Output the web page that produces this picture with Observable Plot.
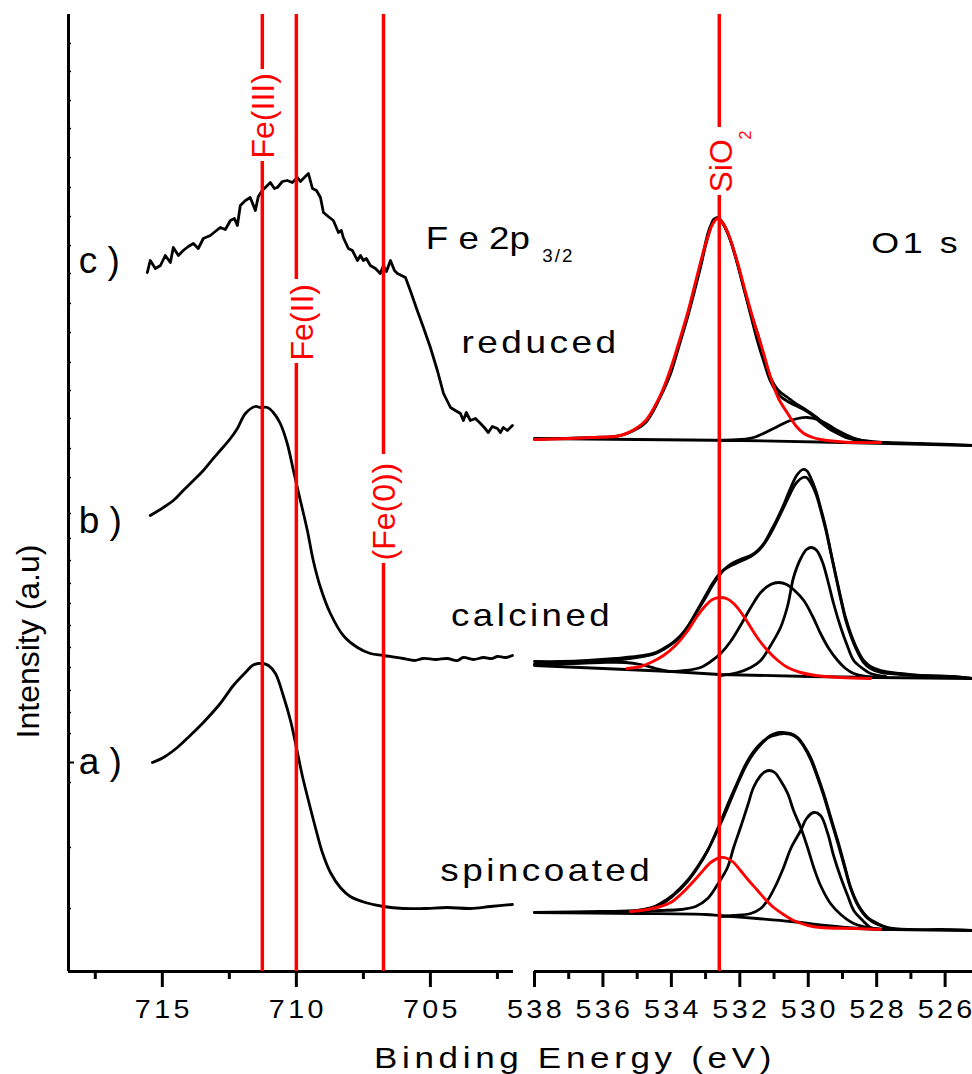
<!DOCTYPE html>
<html>
<head>
<meta charset="utf-8">
<script src="https://cdn.jsdelivr.net/npm/d3@7"></script>
<script src="https://cdn.jsdelivr.net/npm/@observablehq/plot@0.6"></script>
<style>
html, body { margin: 0; padding: 0; background: #fff; }
#chart { position: relative; width: 972px; height: 1074px; }
#chart svg { position: absolute; left: 0; top: 0; background: transparent !important; overflow: visible; }
</style>
</head>
<body>
<div id="chart"></div>
<script>
// ---------- axes / ticks ----------
const feDomain = [718.5, 701.9];
const oDomain = [538, 525.2];
const yDomain = [0, 957];
const feTicksMajor = [715, 710, 705];
const feTicksMinor = [717.5, 712.5, 707.5, 702.5];
const oTicksMajor = [538, 536, 534, 532, 530, 528, 526];
const oTicksMinor = [537, 535, 533, 531, 529, 527];
const yTicksMinor = [928, 900, 871, 843, 814, 784, 755, 726, 698, 668, 639, 609, 581, 553, 523, 494, 458, 433, 411, 388, 368, 346, 324, 304, 281, 259, 238, 189, 124, 63];
const yTicksMajor = [209];
const xTitle = "Binding Energy (eV)";
const yTitle = "Intensity (a.u)";

// ---------- reference lines (with label extents along the line) ----------
const feLines = [711.27, 710.0, 706.75];
const feLineLabels = ["Fe(III)", "Fe(II)", "(Fe(0))"];
const feLabelStart = [813, 611, 411];
const feLabelEnd = [899, 689, 514];
const feLabelDx = [12, 17, 12];
const siLine = [532.6];
const siLabel = "SiO";
const siLabelStart = 779;
const siSub = "2";
const siSubStart = 832;
const siLabelEnd = 844;

// ---------- text labels ----------
const sampleLetters = ["c )", "b )", "a )"];
const sampleLetterY = [699, 439, 198];
const sampleLetterX = 718.12;
const sampleNames = ["reduced", "calcined", "spincoated"];
const sampleNameX = [703.84, 704.23, 704.63];
const sampleNameY = [619, 346, 91];
const feTitle = "F e 2p";
const feTitlePos = [705.17, 723];
const feSub = "3/2";
const feSubPos = [537.77, 710];
const oTitle = "O1 s";
const oTitlePos = [528.16, 719];

// ---------- Fe 2p spectra [BE, intensity] ----------
const feReduced = [
 [715.56,699],[715.45,711],[715.26,703],[715.07,706],[714.89,716],[714.70,709],[714.59,724],[714.40,716],
 [714.22,721],[714.03,725],[713.84,728],[713.66,723],[713.47,733],[713.21,736],[712.84,744],[712.65,742],
 [712.46,751],[712.31,753],[712.20,746],[712.09,766],[711.90,771],[711.72,774],[711.53,761],[711.42,775],
 [711.27,781],[711.12,785],[710.97,789],[710.82,783],[710.71,784],[710.52,790],[710.34,791],[710.15,789],
 [709.96,794],[709.85,790],[709.74,793],[709.55,798],[709.48,791],[709.40,783],[709.25,781],[709.10,774],
 [708.99,759],[708.81,755],[708.62,751],[708.43,739],[708.32,741],[708.25,734],[708.06,723],[707.91,721],
 [707.72,711],[707.61,716],[707.50,711],[707.39,713],[707.24,706],[707.05,703],[706.87,698],[706.75,706],
 [706.64,700],[706.49,711],[706.34,701],[706.23,698],[706.08,696],[705.93,694],[705.75,681],[705.49,661],
 [705.26,644],[705.00,624],[704.74,601],[704.51,578],[704.25,564],[704.07,561],[703.88,558],[703.77,551],
 [703.66,559],[703.51,551],[703.32,553],[703.13,548],[702.99,544],[702.84,539],[702.69,545],[702.50,543],
 [702.39,539],[702.28,544],[702.13,541],[701.94,546]
];
const feCalcined = [
 [715.45,456],[714.96,464],[714.59,471],[714.22,481],[713.84,491],[713.47,501],[713.10,513],[712.84,521],
 [712.46,533],[712.20,543],[711.90,558],[711.53,565],[711.34,564],[711.08,564],[710.86,559],[710.60,548],
 [710.34,528],[710.11,501],[709.85,471],[709.59,441],[709.37,411],[709.10,384],[708.73,358],[708.25,336],
 [707.72,324],[707.24,318],[706.75,316],[706.01,313],[705.60,311],[705.26,313],[704.80,312],[704.37,313],
 [704.00,311],[703.77,314],[703.40,312],[703.02,314],[702.70,313],[702.50,315],[702.20,314],[701.94,316]
];
const feSpin = [
 [715.37,209],[714.96,214],[714.44,224],[713.96,236],[713.47,249],[712.84,268],[712.35,286],[711.90,299],
 [711.64,306],[711.42,308],[711.23,308],[711.04,306],[710.78,298],[710.49,276],[710.22,251],[709.99,223],
 [709.78,196],[709.55,171],[709.29,144],[709.03,119],[708.73,99],[708.36,84],[707.99,75],[707.43,69],
 [706.75,65],[706.01,63],[705.26,63],[704.37,64],[703.51,63],[702.76,65],[701.94,67]
];

// ---------- O 1s spectra [BE, intensity] ----------
const oRedData = [
 [538.00,532],[537.24,533],[536.36,534],[535.49,536],[534.99,543],[534.75,549],[534.52,561],[534.26,579],
 [534.02,598],[533.79,624],[533.53,654],[533.32,681],[533.15,704],[533.00,726],[532.85,744],[532.77,752],
 [532.65,753],[532.56,751],[532.42,743],[532.27,731],[532.09,711],[531.89,684],[531.68,659],[531.48,638],
 [531.30,616],[531.10,594],[530.87,581],[530.60,574],[530.37,568],[530.13,563],[529.87,557],[529.64,551],
 [529.40,544],[529.14,539],[528.91,535],[528.67,533],[528.18,530],[527.68,529],[526.71,528],[525.84,527],[525.19,526]
];
const oRedFit = [
 [533.53,656],[533.15,706],[532.85,746],[532.65,754],[532.42,744],[532.09,710],[531.68,656],[531.48,630],
 [531.30,610],[531.10,590],[530.87,577],[530.60,570],[530.37,566],[530.13,562],[529.87,556],[529.64,549],
 [529.40,543],[529.14,538],[528.91,534],[528.67,532],[528.18,530]
];
const oRedSi = [
 [538.00,532],[536.36,534],[535.49,536],[534.99,544],[534.75,551],[534.52,563],[534.26,581],[534.02,603],
 [533.79,628],[533.53,658],[533.32,686],[533.15,709],[532.97,731],[532.80,747],[532.65,753],[532.51,749],
 [532.33,737],[532.06,708],[531.83,679],[531.60,651],[531.33,621],[531.10,594],[530.87,573],[530.60,558],
 [530.37,546],[530.13,538],[529.87,534],[529.64,532],[529.14,530],[528.67,529],[527.88,529]
];
const oRedC2 = [
 [532.56,531],[531.98,532],[531.60,534],[531.25,539],[530.95,544],[530.60,550],[530.31,553],[530.02,554],
 [529.73,552],[529.43,547],[529.14,541],[528.85,536],[528.47,531],[527.88,529]
];
const oRedBg = [[538,533],[535,532],[532,531],[529,529],[527,527.5],[525.2,526]];

const oCalData = [
 [538.00,310],[537.24,310],[536.45,311],[535.63,313],[534.81,316],[534.46,319],[534.23,323],[533.96,329],
 [533.73,336],[533.50,346],[533.23,361],[533.00,374],[532.80,386],[532.56,398],[532.36,405],[532.18,409],
 [531.92,413],[531.68,416],[531.48,421],[531.30,428],[531.10,440],[530.89,454],[530.69,469],[530.51,484],
 [530.34,496],[530.16,502],[530.05,501],[529.93,494],[529.78,481],[529.64,464],[529.49,444],[529.35,421],
 [529.20,397],[529.05,374],[528.91,354],[528.76,338],[528.58,323],[528.38,311],[528.18,305],[527.88,301],
 [527.30,298],[526.71,296],[525.84,295],[525.19,293]
];
const oCalFit = [
 [538.00,307],[536.45,309],[535.63,311],[534.81,315],[534.46,318],[534.23,322],[533.96,328],[533.73,335],
 [533.50,346],[533.23,362],[533.00,376],[532.80,388],[532.56,399],[532.36,404],[532.18,407],[531.92,411],
 [531.68,415],[531.48,420],[531.30,427],[531.10,438],[530.89,452],[530.69,466],[530.51,479],[530.34,489],
 [530.16,494],[530.05,494],[529.93,489],[529.78,478],[529.64,462],[529.49,442],[529.35,420],[529.20,396],
 [529.05,372],[528.91,352],[528.76,336],[528.58,321],[528.38,309],[528.18,303],[527.88,299],[527.30,297],
 [526.71,296],[525.84,295],[525.19,293]
];
const oCalSi = [
 [535.30,303],[534.90,305],[534.60,309],[534.23,316],[533.88,326],[533.56,339],[533.23,356],[533.00,366],
 [532.80,372],[532.59,374],[532.39,373],[532.18,368],[531.92,357],[531.68,344],[531.45,332],[531.19,321],
 [530.89,311],[530.60,304],[530.22,299],[529.78,296],[529.05,294],[528.18,293]
];
const oCalC3 = [
 [538.00,307],[536.95,308],[536.07,309],[535.34,309],[534.90,307],[534.46,303],[534.02,300],[533.58,301],
 [533.15,304],[532.85,310],[532.56,318],[532.27,330],[531.98,346],[531.68,364],[531.39,379],[531.10,387],
 [530.87,389],[530.63,387],[530.37,380],[530.13,371],[529.87,355],[529.64,338],[529.40,323],[529.14,311],
 [528.91,303],[528.67,298],[528.32,295],[527.88,294]
];
const oCalC4 = [
 [532.56,296],[532.06,299],[531.68,304],[531.39,311],[531.10,326],[530.81,344],[530.60,366],[530.43,394],
 [530.22,413],[530.05,422],[529.90,424],[529.75,421],[529.58,409],[529.43,391],[529.26,368],[529.05,344],
 [528.85,325],[528.67,311],[528.41,303],[528.18,298],[527.74,295]
];
const oCalBg = [[538,306],[536,303],[534,300],[532.6,297],[530,295],[528,294],[525.2,293]];

const oSpinData = [
 [538.00,59],[536.07,60],[534.99,61],[534.61,63],[534.32,68],[533.94,77],[533.53,91],[533.23,105],
 [532.94,121],[532.56,148],[532.33,166],[532.06,188],[531.83,205],[531.60,218],[531.33,229],[531.10,236],
 [530.89,239],[530.72,239],[530.51,238],[530.31,234],[530.13,226],[529.93,214],[529.75,198],[529.55,178],
 [529.35,155],[529.14,131],[528.96,109],[528.76,84],[528.53,66],[528.26,54],[527.97,48],[527.68,44],
 [527.01,42],[526.13,42],[525.19,41]
];
const oSpinFit = [
 [535.00,61],[534.32,67],[533.94,76],[533.53,90],[533.23,104],[532.94,121],[532.56,150],[532.33,169],
 [532.06,190],[531.83,207],[531.60,220],[531.33,230],[531.10,235],[530.89,237],[530.72,238],[530.51,237],
 [530.31,233],[530.13,225],[529.93,212],[529.75,196],[529.55,176],[529.35,153],[529.14,129],[528.96,107],
 [528.76,83],[528.53,65],[528.26,53],[527.97,47],[527.68,44]
];
const oSpinSi = [
 [535.20,60],[534.70,62],[534.32,65],[534.02,69],[533.73,77],[533.44,87],[533.15,98],[532.85,109],
 [532.56,114],[532.36,113],[532.18,109],[531.98,101],[531.74,91],[531.48,81],[531.25,72],[531.01,64],
 [530.72,57],[530.43,51],[530.00,46],[529.64,44],[528.67,43],[527.88,42]
];
const oSpinC2 = [
 [534.90,60],[534.32,61],[533.73,62],[533.29,65],[532.94,73],[532.65,87],[532.36,104],[532.18,124],
 [531.98,144],[531.77,166],[531.60,184],[531.39,196],[531.25,200],[531.13,201],[530.98,199],[530.81,191],
 [530.60,178],[530.43,161],[530.22,144],[530.02,124],[529.84,104],[529.64,86],[529.35,68],[529.05,57],
 [528.67,48],[528.09,43],[527.30,42]
];
const oSpinC3 = [
 [532.56,55],[532.18,56],[531.68,58],[531.39,63],[531.19,71],[530.95,86],[530.72,104],[530.51,123],
 [530.22,141],[530.05,153],[529.84,159],[529.64,156],[529.43,138],[529.26,116],[529.05,94],[528.85,76],
 [528.67,61],[528.41,51],[528.18,44],[527.74,42]
];
const oSpinBg = [[538,59],[535,58],[533,57],[532.6,56],[531.5,53],[530.5,50],[529.5,46],[528.5,43],[527.5,42],[525.2,41]];

// rendered widths (px) and letter spacing of the wide-set labels: [text, width, spacing]
const textFits = [
  ...[...feTicksMajor, ...oTicksMajor].map((t) => [String(t), 58, 3]),
  ["reduced", 158, 3], ["calcined", 162, 3], ["spincoated", 213, 3],
  [xTitle, 402, 4], [feTitle, 104, 0], [oTitle, 90, 3], [feSub, 32, 2]
];

// ---------- drawing ----------
const FONT = '"Liberation Sans", Arial, Helvetica, sans-serif';
const RED = "#ff0000";
const baseStyle = `background: transparent; overflow: visible; font-family: ${FONT}; font-size: 26px; color: #000;`;
const px = (d) => d[0], py = (d) => d[1];
const blk = (data, curve = "catmull-rom") => Plot.line(data, {x: px, y: py, stroke: "#000", strokeWidth: 2.8, curve, strokeLinejoin: "round"});
const red = (data) => Plot.line(data, {x: px, y: py, stroke: RED, strokeWidth: 2.9, curve: "catmull-rom"});

// line segments interrupted where the label sits
const feSegments = feLines.flatMap((v, i) => [
  {x: v, y1: yDomain[0], y2: feLabelStart[i] - 3},
  {x: v, y1: feLabelEnd[i] + 3, y2: yDomain[1]}
]);
const siSegments = [
  {x: siLine[0], y1: yDomain[0], y2: siLabelStart - 3},
  {x: siLine[0], y1: siLabelEnd, y2: yDomain[1]}
];

const left = Plot.plot({
  width: 972, height: 1074,
  marginLeft: 68, marginRight: 459, marginTop: 14, marginBottom: 103,
  x: {domain: feDomain, label: null},
  y: {domain: yDomain, label: null},
  style: baseStyle,
  marks: [
    Plot.axisY({ticks: yTicksMinor, tickSize: -3, tickFormat: () => "", strokeWidth: 1.5, label: null}),
    Plot.axisY({ticks: yTicksMajor, tickSize: -6, tickFormat: () => "", strokeWidth: 2, label: null}),
    Plot.axisX({ticks: feTicksMajor, tickSize: 16, tickFormat: () => "", strokeWidth: 3, label: null}),
    Plot.axisX({ticks: feTicksMinor, tickSize: 8, tickFormat: () => "", strokeWidth: 3, label: null}),
    Plot.text(feTicksMajor, {x: (d) => d, text: (d) => String(d), frameAnchor: "bottom", dy: 46, dx: 1.5, lineAnchor: "bottom", fontSize: 25.5}),
    Plot.ruleX([feDomain[0]], {strokeWidth: 3}),
    Plot.ruleY([yDomain[0]], {strokeWidth: 3}),
    blk(feReduced, "linear"),
    blk(feCalcined),
    blk(feSpin),
    Plot.ruleX(feSegments, {x: "x", y1: "y1", y2: "y2", stroke: RED, strokeWidth: 3.5}),
    Plot.text(feLineLabels, {x: (d, i) => feLines[i], y: (d, i) => feLabelStart[i], text: (d) => d, rotate: -90, textAnchor: "start", lineAnchor: "bottom", dx: 14, fill: RED, fontSize: 32}),
    Plot.text(sampleLetters, {x: () => sampleLetterX, y: (d, i) => sampleLetterY[i], text: (d) => d, textAnchor: "start", lineAnchor: "bottom", fontSize: 37}),
    Plot.text(sampleNames, {x: (d, i) => sampleNameX[i], y: (d, i) => sampleNameY[i], text: (d) => d, textAnchor: "start", lineAnchor: "bottom", fontSize: 32}),
    Plot.text([feTitle], {x: () => feTitlePos[0], y: () => feTitlePos[1], text: (d) => d, textAnchor: "start", lineAnchor: "bottom", fontSize: 32}),
    Plot.text([yTitle], {frameAnchor: "left", text: (d) => d, rotate: -90, textAnchor: "middle", lineAnchor: "bottom", dx: -30, dy: 148.5, fontSize: 32})
  ]
});

const right = Plot.plot({
  width: 972, height: 1074,
  marginLeft: 534, marginRight: 0, marginTop: 14, marginBottom: 103,
  x: {domain: oDomain, label: null},
  y: {domain: yDomain, label: null, axis: null},
  style: baseStyle,
  marks: [
    Plot.axisX({ticks: oTicksMajor, tickSize: 16, tickFormat: () => "", strokeWidth: 3, label: null}),
    Plot.axisX({ticks: oTicksMinor, tickSize: 8, tickFormat: () => "", strokeWidth: 3, label: null}),
    Plot.text(oTicksMajor, {x: (d) => d, text: (d) => String(d), frameAnchor: "bottom", dy: 46, dx: 1.5, lineAnchor: "bottom", fontSize: 25.5}),
    Plot.ruleY([yDomain[0]], {strokeWidth: 3}),
    blk(oRedBg, "linear"), blk(oRedC2), blk(oRedFit), blk(oRedData),
    blk(oCalBg, "linear"), blk(oCalC3), blk(oCalC4), blk(oCalFit), blk(oCalData),
    blk(oSpinBg, "catmull-rom"), blk(oSpinC2), blk(oSpinC3), blk(oSpinFit), blk(oSpinData),
    red(oRedSi), red(oCalSi), red(oSpinSi),
    Plot.ruleX(siSegments, {x: "x", y1: "y1", y2: "y2", stroke: RED, strokeWidth: 3.5}),
    Plot.text([siLabel], {x: () => siLine[0], y: () => siLabelStart, text: (d) => d, rotate: -90, textAnchor: "start", lineAnchor: "bottom", dx: 13, fill: RED, fontSize: 32}),
    Plot.text([siSub], {x: () => siLine[0], y: () => siSubStart, text: (d) => d, rotate: -90, textAnchor: "start", lineAnchor: "bottom", dx: 32, fill: RED, fontSize: 16}),
    Plot.text([feSub], {x: () => feSubPos[0], y: () => feSubPos[1], text: (d) => d, textAnchor: "start", lineAnchor: "bottom", fontSize: 19}),
    Plot.text([oTitle], {x: () => oTitlePos[0], y: () => oTitlePos[1], text: (d) => d, textAnchor: "start", lineAnchor: "bottom", fontSize: 30}),
    Plot.text([xTitle], {frameAnchor: "bottom", text: (d) => d, textAnchor: "middle", lineAnchor: "bottom", dx: -178.5, dy: 96, fontSize: 30})
  ]
});

// wide-set labels: stretch to the measured width
const fits = new Map(textFits.map(([t, w, s]) => [t, [w, s]]));
for (const svg of [left, right]) {
  d3.select(svg).selectAll("text").each(function () {
    const f = fits.get(this.textContent);
    if (!f) return;
    this.style.letterSpacing = f[1] + "px";
    this.setAttribute("textLength", f[0]);
    this.setAttribute("lengthAdjust", "spacingAndGlyphs");
  });
}
// per-label offset across the Fe lines
d3.select(left).selectAll("text").each(function () {
  const i = feLineLabels.indexOf(this.textContent);
  if (i >= 0) this.setAttribute("dy", (feLabelDx[i] - 14) + "px");
});

const chart = document.getElementById("chart");
chart.appendChild(left);
chart.appendChild(right);
</script>
</body>
</html>
